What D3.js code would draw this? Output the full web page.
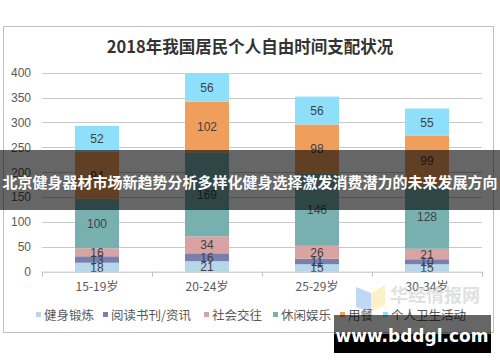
<!DOCTYPE html>
<html><head><meta charset="utf-8">
<script src="https://cdn.jsdelivr.net/npm/d3@7"></script>
<style>body{margin:0;background:#fff}svg{display:block}</style>
</head><body>
<svg id="c" width="500" height="362"></svg>
<script>
const categories = ["15-19岁","20-24岁","25-29岁","30-34岁"];
const seriesNames = ["健身锻炼","阅读书刊/资讯","社会交往","休闲娱乐","用餐","个人卫生活动"];
const fitness = [18,21,15,15];
const reading = [13,16,11,10];
const social = [16,34,26,21];
const leisure = [100,169,146,128];
const dining = [94,102,98,99];
const hygiene = [52,56,56,55];
const yTicks = [0,50,100,150,200,250,300,350,400];
const colors = ["#b6d6ea","#7a80ae","#daa3a3","#78b0b0","#f09e5c","#8ee0fa"];

const svg = d3.select("#c");
const font = "'Liberation Sans', Arial, sans-serif";
const cjk = "'Noto Sans CJK SC', sans-serif";

const rows = categories.map((c,i)=>({cat:c, s0:fitness[i], s1:reading[i], s2:social[i], s3:leisure[i], s4:dining[i], s5:hygiene[i]}));
const keys = ["s0","s1","s2","s3","s4","s5"];
const stacked = d3.stack().keys(keys)(rows);

// frame
svg.append("rect").attr("x",3.5).attr("y",26.5).attr("width",490).attr("height",306)
  .attr("fill","#fff").attr("stroke","#c0c0c0");

svg.append("text").attr("x",250).attr("y",53).attr("text-anchor","middle")
  .attr("font-family","'Noto Sans CJK SC', serif").attr("font-weight","bold")
  .attr("font-size",16.5).attr("fill","#333").text("2018年我国居民个人自由时间支配状况");

const x = d3.scaleBand().domain(categories).range([42,482]).paddingInner(0.6).paddingOuter(0.3);
const y = d3.scaleLinear().domain([0,400]).range([271.7,72.7]);

// gridlines
const g = svg.append("g");
g.selectAll("line.grid").data(yTicks.filter(d=>d>0)).enter().append("line")
  .attr("x1",42).attr("x2",482).attr("y1",d=>Math.round(y(d))+0.5).attr("y2",d=>Math.round(y(d))+0.5)
  .attr("stroke","#c8c8c8").attr("stroke-width",1);

// y axis labels
const yAxis = d3.axisLeft(y).tickValues(yTicks).tickSize(0).tickPadding(0);
const ya = svg.append("g").attr("transform","translate(31,0)").call(yAxis);
ya.select(".domain").remove();
ya.selectAll("text").attr("font-family",font).attr("font-size",12).attr("fill","#595959");

// bars
const layer = svg.append("g").selectAll("g").data(stacked).enter().append("g")
  .attr("fill",(d,i)=>colors[i]);
layer.selectAll("rect").data(d=>d).enter().append("rect")
  .attr("x",d=>x(d.data.cat)).attr("width",x.bandwidth())
  .attr("y",d=>y(d[1])).attr("height",d=>y(d[0])-y(d[1]));

// labels
const lab = svg.append("g");
stacked.forEach((s,si)=>{
  s.forEach(d=>{
    const v = d[1]-d[0];
    lab.append("text").attr("x",x(d.data.cat)+x.bandwidth()/2)
      .attr("y",(y(d[0])+y(d[1]))/2+4.5).attr("text-anchor","middle")
      .attr("font-family",font).attr("font-size",12).attr("fill","#404040").text(v);
  });
});

// x axis
const xAxisLine = svg.append("g").attr("transform","translate(0,271.7)");
xAxisLine.append("line").attr("x1",42).attr("x2",482).attr("y1",0.5).attr("y2",0.5).attr("stroke","#bfbfbf");
const bounds = d3.range(categories.length+1).map(i=>42+i*x.step());
xAxisLine.selectAll("line.t").data(bounds).enter().append("line")
  .attr("x1",d=>Math.round(d)+0.5).attr("x2",d=>Math.round(d)+0.5).attr("y1",0).attr("y2",5).attr("stroke","#bfbfbf");
const xAxis = d3.axisBottom(x).tickSize(0).tickPadding(0);
const xa = svg.append("g").attr("transform","translate(0,284)").call(xAxis);
xa.select(".domain").remove();
xa.selectAll("text").attr("font-family",cjk).attr("font-size",12).attr("fill","#595959").attr("dy","0.6em");

// watermark huajing
const wm = svg.append("g").attr("opacity",0.55);
wm.append("path").attr("d","M356,287 L371,293 L371,312 L356,307 Z").attr("fill","#8fb8f0");
wm.append("path").attr("d","M371,293 L385,285 L385,305 L371,312 Z").attr("fill","#fde79a");
wm.append("text").attr("x",435).attr("y",302).attr("text-anchor","middle").attr("font-family",cjk)
  .attr("font-weight","bold").attr("font-size",18).attr("fill","#c8c8c8").text("华经情报网");

// legend
const legendX = [36,103,204,273,340,383];
const lg = svg.append("g");
seriesNames.forEach((n,i)=>{
  lg.append("rect").attr("x",legendX[i]).attr("y",312).attr("width",5).attr("height",5).attr("fill",colors[i]);
  lg.append("text").attr("x",legendX[i]+8).attr("y",319.5).attr("font-family",cjk).attr("font-size",12.5)
    .attr("fill","#595959").text(n);
});

// banner overlay
svg.append("rect").attr("x",0).attr("y",150).attr("width",500).attr("height",60).attr("fill","rgba(0,0,0,0.6)");
svg.append("text").attr("x",250).attr("y",188).attr("text-anchor","middle").attr("font-family",cjk)
  .attr("font-weight","bold").attr("font-size",15).attr("fill","#fff")
  .text("北京健身器材市场新趋势分析多样化健身选择激发消费潜力的未来发展方向");

// bottom watermark
svg.append("rect").attr("x",334).attr("y",315).attr("width",157).attr("height",19).attr("fill","rgba(0,0,0,0.6)");
svg.append("rect").attr("x",334).attr("y",334).attr("width",157).attr("height",19).attr("fill","#000");
svg.append("text").attr("x",412).attr("y",342).attr("text-anchor","middle").attr("font-family","'DejaVu Sans', Arial, sans-serif")
  .attr("font-weight","bold").attr("font-size",17).attr("fill","#fff").text("www.bddgl.com");
</script>
</body></html>
